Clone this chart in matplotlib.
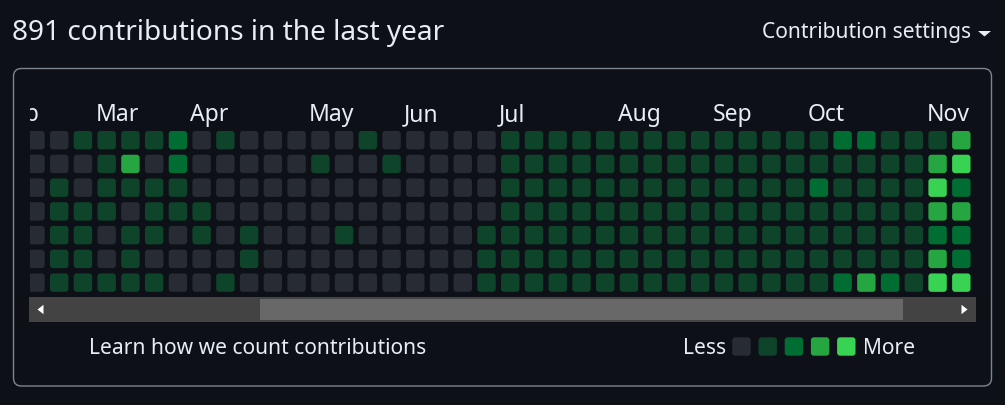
import matplotlib.pyplot as plt
from matplotlib.patches import FancyBboxPatch, Rectangle, Polygon

# contribution levels (0-4), one list per weekday row, 40 visible week columns
row_sun = [0,0,1,1,1,1,2,0,1,0,0,0,0,0,1,0,0,0,0,0,1,1,1,1,1,1,1,1,1,1,1,1,1,1,2,2,1,1,1,3]
row_mon = [0,0,0,1,3,0,2,0,0,0,0,0,1,0,0,1,0,0,0,0,1,1,1,1,1,1,1,1,1,1,1,1,1,1,1,1,1,1,3,4]
row_tue = [0,1,0,1,1,1,1,0,0,0,0,0,0,0,0,0,0,0,0,0,1,1,1,1,1,1,1,1,1,1,1,1,1,2,1,1,1,1,4,2]
row_wed = [0,1,1,1,0,1,1,1,0,0,0,0,0,0,0,0,0,0,0,0,1,1,1,1,1,1,1,1,1,1,1,1,1,1,1,1,1,1,3,3]
row_thu = [0,1,1,0,1,1,0,1,0,1,0,0,0,1,0,0,0,0,0,1,1,1,1,1,1,1,1,1,1,1,1,1,1,1,1,1,1,1,2,2]
row_fri = [0,1,1,0,1,0,0,0,0,1,0,0,0,0,0,0,0,0,0,1,1,1,1,1,1,1,1,1,1,1,1,1,1,1,1,1,1,1,3,2]
row_sat = [0,1,1,1,1,1,0,0,1,0,0,0,0,0,0,0,0,0,0,1,1,1,1,1,1,1,1,1,1,1,1,1,1,1,2,3,2,1,4,4]
rows = [row_sun, row_mon, row_tue, row_wed, row_thu, row_fri, row_sat]

months = ['Feb', 'Mar', 'Apr', 'May', 'Jun', 'Jul', 'Aug', 'Sep', 'Oct', 'Nov']
month_cols = [-1, 3, 7, 12, 16, 20, 25, 29, 33, 38]

level_colors = ['#272b33', '#0e4429', '#006d32', '#26a641', '#39d353']

bg = '#0d1117'
fg = '#e6edf3'
W, H = 1005, 405

fig = plt.figure(figsize=(W / 100, H / 100), dpi=100, facecolor=bg)
ax = fig.add_axes([0, 0, 1, 1])
ax.set_xlim(0, W)
ax.set_ylim(H, 0)
ax.axis('off')

font = 'Noto Sans'

# header
ax.text(12, 40, '891 contributions in the last year', color=fg, fontsize=20.2,
        family=font, ha='left', va='baseline')
ax.text(762, 38.3, 'Contribution settings', color=fg, fontsize=15.1,
        family=font, ha='left', va='baseline')
ax.add_patch(Polygon([(978, 31), (991, 31), (984.5, 36.5)], closed=True,
                     facecolor=fg, edgecolor='none'))

# rounded frame
ax.add_patch(FancyBboxPatch((13.5 + 8, 68.5 + 8), 978 - 16, 317.5 - 16,
                            boxstyle='round,pad=8', facecolor='none',
                            edgecolor='#7d8590', lw=1.0))

# grid area (clipped like the scrolled container)
gx0, gx1, gy0, gy1 = 29.5, 976, 92, 296
gax = fig.add_axes([gx0 / W, 1 - gy1 / H, (gx1 - gx0) / W, (gy1 - gy0) / H])
gax.set_xlim(gx0, gx1)
gax.set_ylim(gy1, gy0)
gax.axis('off')

x0, y0, pitch, cell, rad = 26.26, 131.0, 23.74, 18.4, 3.0
for r, levels in enumerate(rows):
    for c, lv in enumerate(levels):
        x = x0 + c * pitch
        y = y0 + r * pitch
        gax.add_patch(FancyBboxPatch((x + rad, y + rad), cell - 2 * rad, cell - 2 * rad,
                                     boxstyle=f'round,pad={rad}',
                                     facecolor=level_colors[lv], edgecolor='none'))

for name, c in zip(months, month_cols):
    gax.text(x0 + c * pitch - 2, 121, name, color=fg, fontsize=16.5, family=font,
             ha='left', va='baseline', clip_on=True)

# scrollbar
ax.add_patch(Rectangle((29, 297.3), 947, 24.4, facecolor='#434343', edgecolor='none'))
ax.add_patch(Rectangle((260, 299), 643, 20.7, facecolor='#686868', edgecolor='none'))
ax.add_patch(Polygon([(37.5, 309.5), (43.5, 304.8), (43.5, 314.2)], closed=True,
                     facecolor='white', edgecolor='none'))
ax.add_patch(Polygon([(967.5, 309.5), (961.5, 304.8), (961.5, 314.2)], closed=True,
                     facecolor='white', edgecolor='none'))

# footer
ax.text(89, 354, 'Learn how we count contributions', color=fg, fontsize=15.1,
        family=font, ha='left', va='baseline')
ax.text(683, 354, 'Less', color=fg, fontsize=15.1, family=font, ha='left', va='baseline')
for i, col in enumerate(level_colors):
    lx = 732.3 + i * 26.2
    ax.add_patch(FancyBboxPatch((lx + 3, 337.3 + 3), 18.4 - 6, 18.4 - 6,
                                boxstyle='round,pad=3', facecolor=col, edgecolor='none'))
ax.text(863, 354, 'More', color=fg, fontsize=15.1, family=font, ha='left', va='baseline')

fig.savefig('out.png', dpi=100, facecolor=bg)
